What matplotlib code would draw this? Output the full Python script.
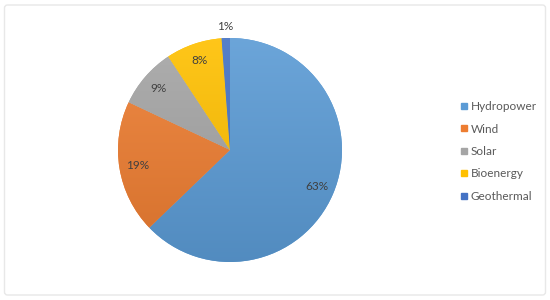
import matplotlib
matplotlib.use("Agg")
import matplotlib.pyplot as plt
import numpy as np
from matplotlib.lines import Line2D
from matplotlib.patches import FancyBboxPatch
from matplotlib.colors import to_rgb

categories = ["Hydropower", "Wind", "Solar", "Bioenergy", "Geothermal"]
values = [62.8, 19.2, 8.7, 8.1, 1.2]
colors = ["#5B9BD5", "#ED7D31", "#A5A5A5", "#FFC000", "#4472C4"]

plt.rcParams['font.family'] = ['Lato', 'DejaVu Sans']

fig = plt.figure(figsize=(5.5, 3.0), dpi=100)
ax = fig.add_axes([0, 0, 1, 1])
ax.set_xlim(0, 550)
ax.set_ylim(0, 300)
ax.set_aspect('equal')
ax.axis('off')

# frame
frame = FancyBboxPatch((4.5, 5), 541, 290, boxstyle="round,pad=0,rounding_size=3",
                       fc='white', ec='#e8e8e8', lw=1.0, zorder=0)
ax.add_patch(frame)

cx, cy, R = 230, 150, 112
wedges, texts, autotexts = ax.pie(values, colors=colors, startangle=90, counterclock=False,
                                  center=(cx, cy), radius=R, autopct='%1.0f%%',
                                  pctdistance=0.84, frame=True,
                                  textprops=dict(color='#404040', fontsize=8.5),
                                  wedgeprops=dict(lw=0))
ax.set_xlim(0, 550)
ax.set_ylim(0, 300)
ax.axis('off')

def shade(c, f):
    r = np.array(to_rgb(c))
    if f > 0:
        return r + (1 - r) * f
    return r * (1 + f)

for w, c in zip(wedges, colors):
    top = shade(c, 0.10)
    bot = shade(c, -0.10)
    t = np.linspace(0, 1, 256)[:, None]
    img = top[None, :] * (1 - t) + bot[None, :] * t
    img = img[:, None, :]
    im = ax.imshow(img, extent=(cx - R, cx + R, cy - R, cy + R), origin='upper',
                   aspect='auto', zorder=w.get_zorder() + 0.1)
    im.set_clip_path(w)

ax.set_xlim(0, 550)
ax.set_ylim(0, 300)

for t in autotexts:
    t.set_zorder(5)
# move the smallest label outside the pie
small = autotexts[-1]
x, y = small.get_position()
dx, dy = x - cx, y - cy
s = 1.1 / 0.84
small.set_position((cx + dx * s, cy + dy * s))

handles = [Line2D([], [], marker='s', ls='', color=c, markersize=5) for c in colors]
leg = ax.legend(handles, categories, loc='center left', bbox_to_anchor=(455 / 550, 148.5 / 300),
                frameon=False, fontsize=8.5, labelspacing=0.97, handlelength=0.55,
                handletextpad=0.3, borderpad=0)
for tx in leg.get_texts():
    tx.set_color('#595959')

fig.savefig("out.png", dpi=100)
